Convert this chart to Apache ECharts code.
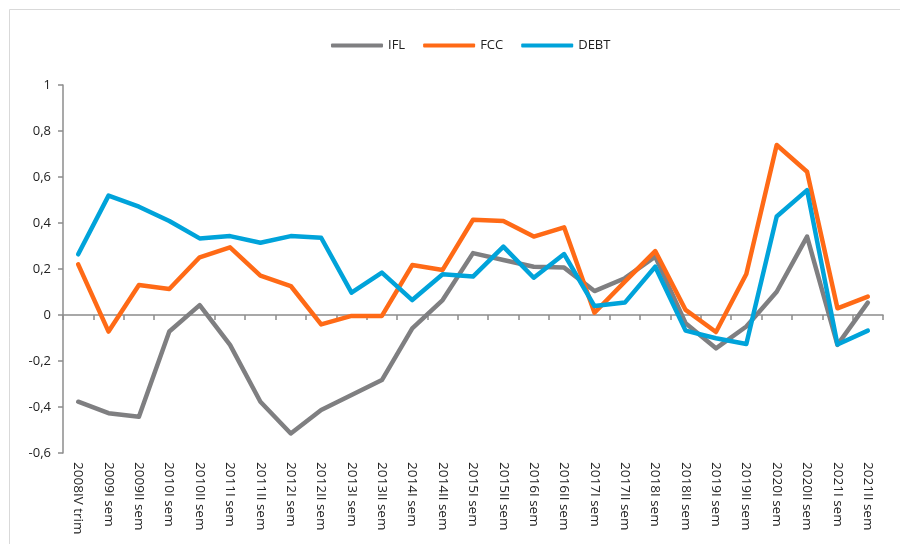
<!DOCTYPE html>
<html><head><meta charset="utf-8">
<script src="https://cdn.jsdelivr.net/npm/echarts@6/dist/echarts.min.js"></script>
<style>html,body{margin:0;padding:0;background:#fff}#c{width:900px;height:544px}</style>
</head><body><div id="c"></div>
<script>
var categories = ["2008IV trim","2009I sem","2009II sem","2010I sem","2010II sem","2011I sem","2011II sem","2012I sem","2012II sem","2013I sem","2013II sem","2014I sem","2014II sem","2015I sem","2015II sem","2016I sem","2016II sem","2017I sem","2017II sem","2018I sem","2018II sem","2019I sem","2019II sem","2020I sem","2020II sem","2021I sem","2021II sem"];
var ifl  = [-0.377,-0.427,-0.442,-0.072,0.043,-0.130,-0.377,-0.515,-0.413,-0.348,-0.283,-0.058,0.065,0.269,0.239,0.210,0.206,0.104,0.160,0.254,-0.036,-0.145,-0.050,0.101,0.341,-0.130,0.054];
var fcc  = [0.220,-0.072,0.130,0.113,0.251,0.294,0.171,0.126,-0.041,-0.004,-0.004,0.217,0.196,0.414,0.409,0.341,0.381,0.010,0.145,0.278,0.022,-0.074,0.178,0.739,0.623,0.029,0.080];
var debt = [0.264,0.519,0.471,0.409,0.333,0.343,0.314,0.343,0.336,0.097,0.184,0.065,0.177,0.167,0.297,0.162,0.265,0.039,0.054,0.210,-0.068,-0.101,-0.126,0.428,0.543,-0.128,-0.068];
var yTicks = {min:-0.6, max:1, interval:0.2};

var chart = echarts.init(document.getElementById('c'));
var font = "'Open Sans', 'Noto Sans', sans-serif";
function ser(name, data, color){
  return {name:name, type:'line', data:data, symbol:'none', xAxisIndex:0,
    lineStyle:{width:4.5, color:color, cap:'round', join:'round'}, itemStyle:{color:color}};
}
chart.setOption({
  animation:false,
  backgroundColor:'#fff',
  graphic:[{type:'rect', shape:{x:9.5,y:9.5,width:1000,height:1000}, style:{fill:'none', stroke:'#d9d9d9', lineWidth:1}, silent:true}],
  legend:{top:34, left:326, itemWidth:52, itemHeight:4, itemGap:18,
    icon:'roundRect',
    textStyle:{fontFamily:font, fontSize:13, color:'#222'},
    data:['IFL','FCC','DEBT']},
  grid:{left:63, right:17, top:85, bottom:91},
  xAxis:[
    {type:'category', data:categories, boundaryGap:true,
     axisLine:{show:false, onZero:false}, axisTick:{show:false},
     axisLabel:{rotate:-90, interval:0, margin:9, fontFamily:font, fontSize:13.5, color:'#222'}},
    {type:'category', data:categories, boundaryGap:true, position:'bottom',
     axisLine:{show:true, onZero:true, lineStyle:{color:'#8c8c8c', width:1.5}},
     axisTick:{show:true, length:5, interval:0, lineStyle:{color:'#8c8c8c', width:1.5}},
     axisLabel:{show:false}}
  ],
  yAxis:{type:'value', min:yTicks.min, max:yTicks.max, interval:yTicks.interval,
    splitLine:{show:false},
    axisLine:{show:true, lineStyle:{color:'#8c8c8c', width:1.5}},
    axisTick:{show:true, length:5, lineStyle:{color:'#8c8c8c', width:1.5}},
    axisLabel:{margin:12, fontFamily:font, fontSize:13, color:'#222',
      formatter:function(v){ var r=Math.round(v*10)/10; if(r===0) return '0'; if(r===1) return '1'; return r.toFixed(1).replace('.',','); }}},
  series:[ser('IFL', ifl, '#7f7f81'), ser('FCC', fcc, '#ff6a16'), ser('DEBT', debt, '#00a3da')]
});
</script></body></html>
